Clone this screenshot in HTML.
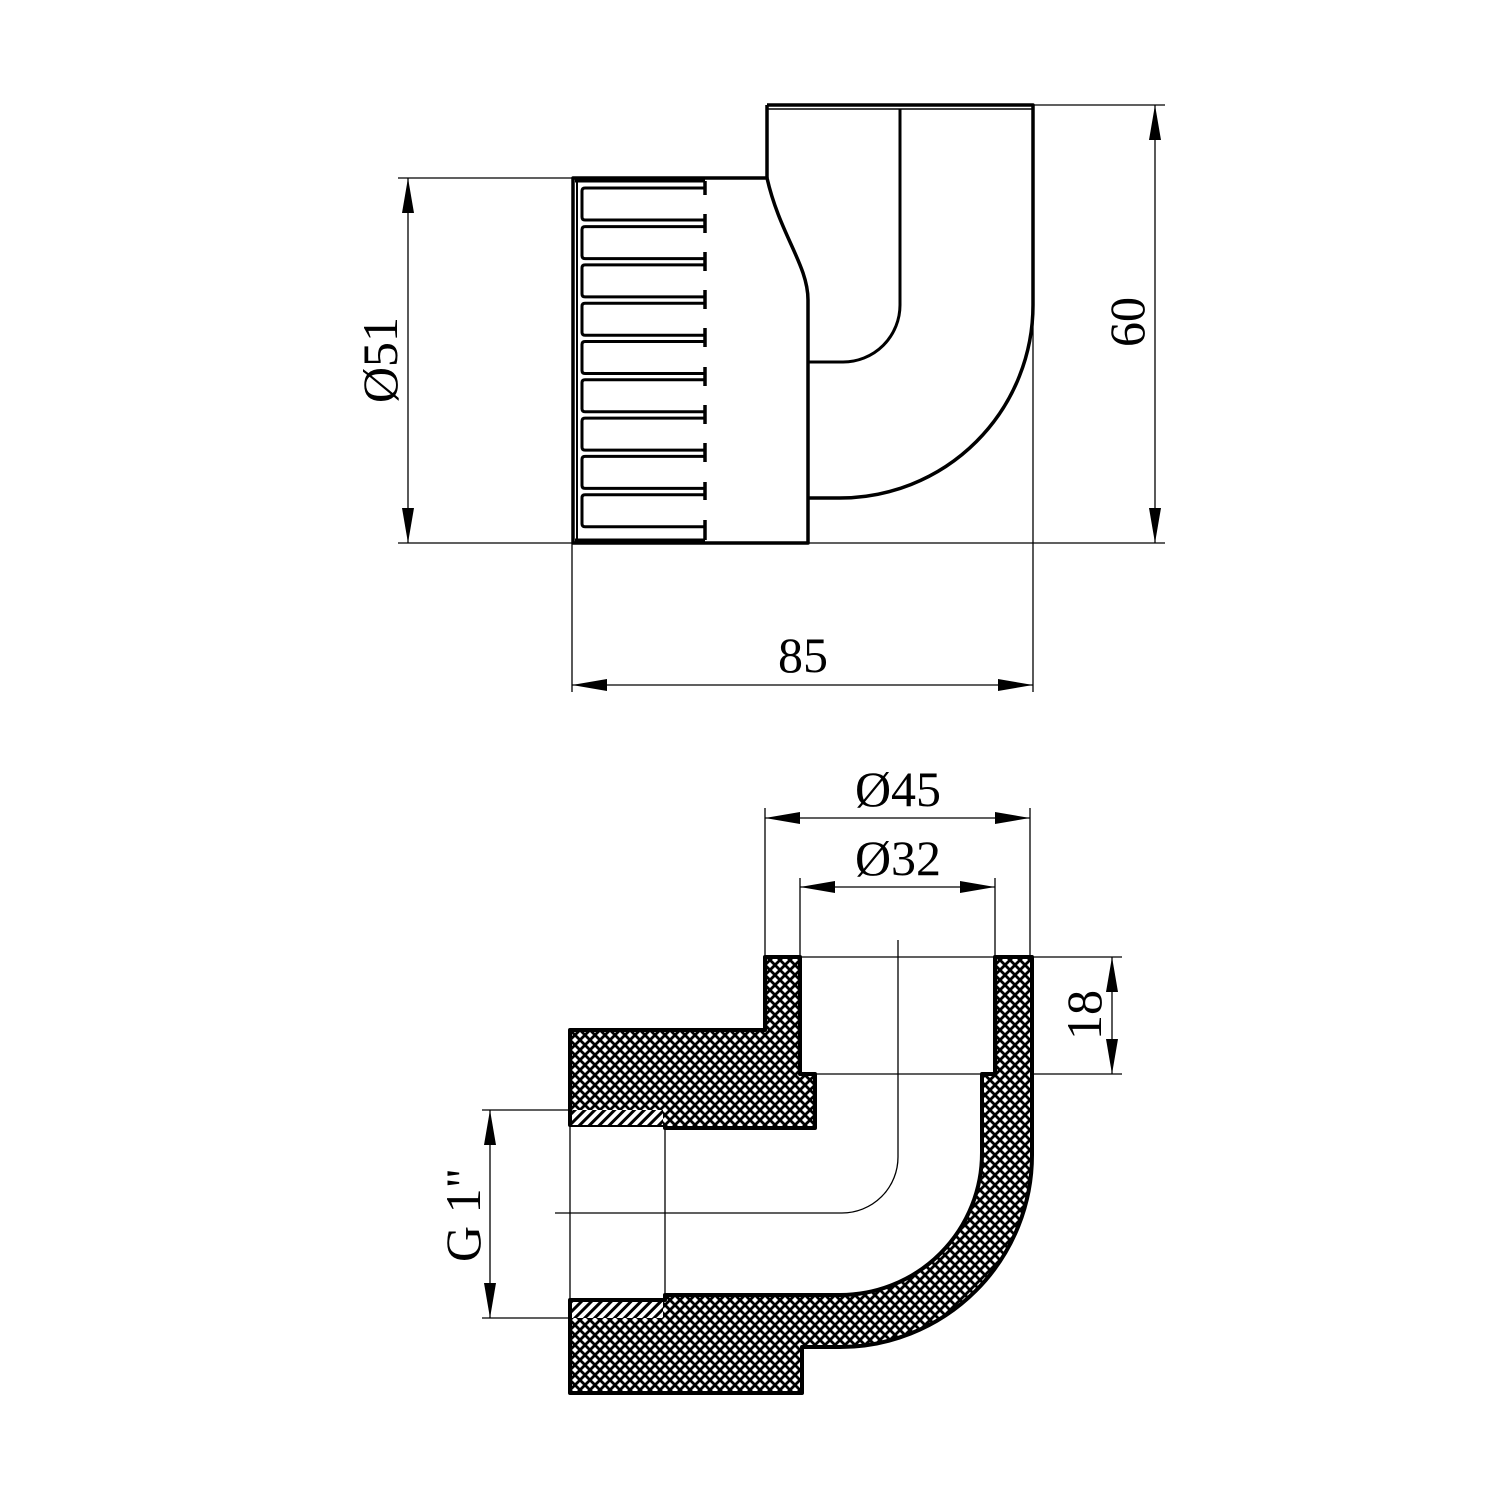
<!DOCTYPE html>
<html><head><meta charset="utf-8"><style>
html,body{margin:0;padding:0;background:#fff}
svg{display:block}
text{font-family:"Liberation Serif",serif;font-size:50px;fill:#000}
</style></head><body>
<svg width="1500" height="1500" viewBox="0 0 1500 1500" xmlns="http://www.w3.org/2000/svg">
<defs>
<pattern id="xh" patternUnits="userSpaceOnUse" width="10" height="10">
<rect width="10" height="10" fill="#fff"/>
<path d="M0,0 L10,10 M10,0 L0,10 M-1,9 L1,11 M9,-1 L11,1 M-1,1 L1,-1 M9,11 L11,9" stroke="#000" stroke-width="2.8"/>
</pattern>
<pattern id="th" patternUnits="userSpaceOnUse" width="7" height="7" patternTransform="rotate(45)">
<rect width="7" height="7" fill="#fff"/>
<rect width="3" height="7" fill="#000"/>
</pattern>
</defs>
<g fill="none" stroke="#000" stroke-width="1.3">
<line x1="398" y1="178" x2="573" y2="178"/>
<line x1="398" y1="543" x2="1165" y2="543"/>
<line x1="1034" y1="105" x2="1165" y2="105"/>
<line x1="572" y1="543" x2="572" y2="692"/>
<line x1="1033" y1="105" x2="1033" y2="692"/>
<line x1="408" y1="178" x2="408" y2="543"/>
<line x1="1155" y1="105" x2="1155" y2="543"/>
<line x1="572" y1="685" x2="1033" y2="685"/>
<line x1="765" y1="808" x2="765" y2="957"/>
<line x1="1030" y1="808" x2="1030" y2="957"/>
<line x1="765" y1="818" x2="1030" y2="818"/>
<line x1="800" y1="878" x2="800" y2="957"/>
<line x1="995" y1="878" x2="995" y2="957"/>
<line x1="800" y1="887" x2="995" y2="887"/>
<line x1="1032" y1="957" x2="1122" y2="957"/>
<line x1="1032" y1="1074" x2="1122" y2="1074"/>
<line x1="1112" y1="957" x2="1112" y2="1074"/>
<line x1="482" y1="1110" x2="570" y2="1110"/>
<line x1="482" y1="1318" x2="570" y2="1318"/>
<line x1="490" y1="1110" x2="490" y2="1318"/>
<line x1="800" y1="957" x2="1030" y2="957"/>
<line x1="815" y1="1074" x2="982" y2="1074"/>
<path d="M898,940 L898,1157 A56,56 0 0 1 842,1213 L555,1213"/>
<line x1="570" y1="1125" x2="570" y2="1300"/>
<line x1="665" y1="1125" x2="665" y2="1300"/>
</g>
<g fill="#000">
<polygon points="408,178 402,213 414,213"/><polygon points="408,543 402,508 414,508"/>
<polygon points="1155,105 1149,140 1161,140"/><polygon points="1155,543 1149,508 1161,508"/>
<polygon points="572,685 607,679 607,691"/><polygon points="1033,685 998,679 998,691"/>
<polygon points="765,818 800,812 800,824"/><polygon points="1030,818 995,812 995,824"/>
<polygon points="800,887 835,881 835,893"/><polygon points="995,887 960,881 960,893"/>
<polygon points="1112,957 1106,992 1118,992"/><polygon points="1112,1074 1106,1039 1118,1039"/>
<polygon points="490,1110 484,1145 496,1145"/><polygon points="490,1318 484,1283 496,1283"/>
</g>
<g fill="none" stroke="#000" stroke-width="3.5" stroke-linejoin="round">
<path d="M767,105 L1033,105 L1033,305 A193,193 0 0 1 840,498 L808,498"/>
<line x1="767" y1="105" x2="767" y2="178"/>
<path d="M573,178 L767,178 C780,235 808,265 808,300 L808,543 L573,543 Z"/>
<line x1="577" y1="180" x2="577" y2="541" stroke-width="2"/>
<path d="M900,109 L900,305 A57,57 0 0 1 843,362 L808,362" stroke-width="3"/>
<line x1="767" y1="109" x2="1033" y2="109" stroke-width="1.5"/>
<line x1="575" y1="181" x2="705" y2="181" stroke-width="3"/>
<line x1="575" y1="540" x2="705" y2="540" stroke-width="3"/>
</g>
<g fill="none" stroke="#000" stroke-width="3">
<path d="M705,188 L585,188 Q582,188 582,191 L582,217 Q582,220 585,220 L705,220"/>
<path d="M705,226.6 L585,226.6 Q582,226.6 582,229.6 L582,255.6 Q582,258.6 585,258.6 L705,258.6"/>
<path d="M705,264.9 L585,264.9 Q582,264.9 582,267.9 L582,293.9 Q582,296.9 585,296.9 L705,296.9"/>
<path d="M705,303.2 L585,303.2 Q582,303.2 582,306.2 L582,332.2 Q582,335.2 585,335.2 L705,335.2"/>
<path d="M705,341.5 L585,341.5 Q582,341.5 582,344.5 L582,370.5 Q582,373.5 585,373.5 L705,373.5"/>
<path d="M705,379.8 L585,379.8 Q582,379.8 582,382.8 L582,408.8 Q582,411.8 585,411.8 L705,411.8"/>
<path d="M705,418.1 L585,418.1 Q582,418.1 582,421.1 L582,447.1 Q582,450.1 585,450.1 L705,450.1"/>
<path d="M705,456.4 L585,456.4 Q582,456.4 582,459.4 L582,485.4 Q582,488.4 585,488.4 L705,488.4"/>
<path d="M705,494.7 L585,494.7 Q582,494.7 582,497.7 L582,523.7 Q582,526.7 585,526.7 L705,526.7"/>
<g stroke-width="3.5">
<line x1="705" y1="181" x2="705" y2="195"/><line x1="705" y1="214" x2="705" y2="233"/>
<line x1="705" y1="252" x2="705" y2="271"/><line x1="705" y1="290" x2="705" y2="309"/>
<line x1="705" y1="328" x2="705" y2="347"/><line x1="705" y1="367" x2="705" y2="386"/>
<line x1="705" y1="405" x2="705" y2="424"/><line x1="705" y1="443" x2="705" y2="462"/>
<line x1="705" y1="482" x2="705" y2="500"/><line x1="705" y1="520" x2="705" y2="540"/>
</g>
</g>
<g stroke="#000" stroke-width="4" stroke-linejoin="round">
<path fill="url(#xh)" d="M570,1030 L765,1030 L765,957 L800,957 L800,1074 L815,1074 L815,1128 L665,1128 L665,1125 L570,1125 Z"/>
<path fill="url(#xh)" d="M995,957 L1032,957 L1032,1155 A192,192 0 0 1 840,1347 L802,1347 L802,1393 L570,1393 L570,1300 L665,1300 L665,1295 L840,1295 A142,142 0 0 0 982,1153 L982,1074 L995,1074 Z"/>
<rect x="572" y="1110" width="91" height="15" fill="url(#th)" stroke="none"/>
<rect x="572" y="1302" width="91" height="16" fill="url(#th)" stroke="none"/>
</g>
<text transform="translate(397,360) rotate(-90)" text-anchor="middle">Ø51</text>
<text transform="translate(1144,322) rotate(-90)" text-anchor="middle">60</text>
<text x="803" y="672" text-anchor="middle">85</text>
<text x="898" y="806" text-anchor="middle">Ø45</text>
<text x="898" y="875" text-anchor="middle">Ø32</text>
<text transform="translate(1101,1015) rotate(-90)" text-anchor="middle">18</text>
<text transform="translate(480,1215) rotate(-90)" text-anchor="middle">G 1"</text>
</svg>
</body></html>
